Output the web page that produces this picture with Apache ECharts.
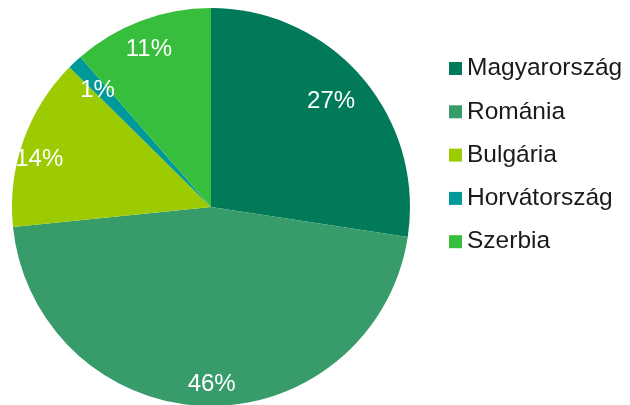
<!DOCTYPE html>
<html><head><meta charset="utf-8">
<script src="https://cdn.jsdelivr.net/npm/echarts@6/dist/echarts.min.js"></script>
<style>html,body{margin:0;padding:0;background:#fff}#c{width:630px;height:405px}</style>
</head><body><div id="c"></div>
<script>
const categories = ['Magyarország', 'Románia', 'Bulgária', 'Horvátország', 'Szerbia'];
const values = [27.4, 46.0, 14.0, 1.2, 11.4];
const labels = ['27%', '46%', '14%', '1%', '11%'];
const colors = ['#007A58', '#379B6A', '#9BCB00', '#00999A', '#37BE3C'];

const data = categories.map((n, i) => ({ name: n, value: values[i], itemStyle: { color: colors[i] } }));
const labelData = categories.map((n, i) => ({ name: n, value: values[i] }));
// small label nudges to mimic the "best fit" placement of the original
const nudge = [[-10, 6], [5, 6], [-10, 9], [4, 8], [-2, 3]];

const chart = echarts.init(document.getElementById('c'), null, { renderer: 'canvas' });
chart.setOption({
  animation: false,
  textStyle: { fontFamily: 'Liberation Sans, Arial, sans-serif' },
  legend: {
    orient: 'vertical', left: 449, top: 56,
    itemWidth: 13, itemHeight: 13, itemGap: 18.3, padding: 0,
    icon: 'rect',
    data: categories,
    textStyle: { fontSize: 24.5, color: '#1a1a1a', fontFamily: 'Liberation Sans, Arial, sans-serif' }
  },
  series: [
    {
      type: 'pie', center: [211, 207], radius: [0, 199],
      startAngle: 90, clockwise: true,
      label: { show: false }, labelLine: { show: false },
      itemStyle: { borderWidth: 0 },
      emphasis: { disabled: true },
      data: data
    },
    {
      type: 'pie', center: [211, 207], radius: [138, 199],
      startAngle: 90, clockwise: true, silent: true,
      itemStyle: { color: 'rgba(0,0,0,0)', borderWidth: 0 },
      label: {
        show: true, position: 'inside', color: '#fff', fontSize: 24,
        fontFamily: 'Liberation Sans, Arial, sans-serif',
        formatter: p => labels[p.dataIndex]
      },
      labelLayout: p => ({ dx: nudge[p.dataIndex][0], dy: nudge[p.dataIndex][1] }),
      labelLine: { show: false },
      emphasis: { disabled: true },
      data: labelData
    }
  ]
});
</script></body></html>
